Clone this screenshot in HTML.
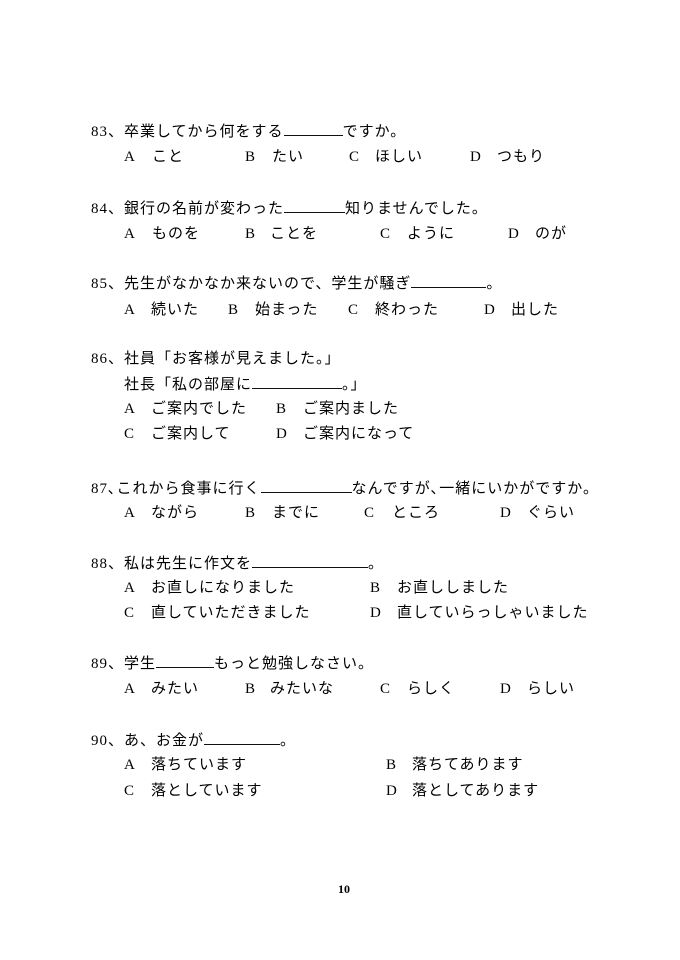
<!DOCTYPE html>
<html><head><meta charset="utf-8"><style>
body{margin:0;background:#fff;}
#p{position:relative;width:680px;height:960px;overflow:hidden;background:#fff;color:#000;font-family:"Liberation Serif","Noto Sans CJK JP",serif;font-size:15px;letter-spacing:1px;}
#p div{position:absolute;white-space:nowrap;line-height:20px;}
.u{display:inline-block;border-bottom:1px solid #111;height:14px;vertical-align:baseline;}
</style></head><body><div id="p">
<div style="left:91px;top:121px">83、卒業してから何をする<span class="u" style="width:59px"></span>ですか。</div>
<div style="left:124px;top:147px">A</div><div style="left:152px;top:147px">こと</div>
<div style="left:245px;top:147px">B</div><div style="left:272px;top:147px">たい</div>
<div style="left:349px;top:147px">C</div><div style="left:375px;top:147px">ほしい</div>
<div style="left:470px;top:147px">D</div><div style="left:497px;top:147px">つもり</div>

<div style="left:91px;top:198px">84、銀行の名前が変わった<span class="u" style="width:61px"></span>知りませんでした。</div>
<div style="left:124px;top:224px">A</div><div style="left:152px;top:224px">ものを</div>
<div style="left:245px;top:224px">B</div><div style="left:270px;top:224px">ことを</div>
<div style="left:380px;top:224px">C</div><div style="left:407px;top:224px">ように</div>
<div style="left:508px;top:224px">D</div><div style="left:535px;top:224px">のが</div>

<div style="left:91px;top:273px">85、先生がなかなか来ないので、学生が騒ぎ<span class="u" style="width:75px"></span>。</div>
<div style="left:124px;top:300px">A</div><div style="left:151px;top:300px">続いた</div>
<div style="left:228px;top:300px">B</div><div style="left:255px;top:300px">始まった</div>
<div style="left:348px;top:300px">C</div><div style="left:375px;top:300px">終わった</div>
<div style="left:484px;top:300px">D</div><div style="left:511px;top:300px">出した</div>

<div style="left:91px;top:349px">86、社員「お客様が見えました。」</div>
<div style="left:124px;top:374px">社長「私の部屋に<span class="u" style="width:90px"></span>。」</div>
<div style="left:124px;top:399px">A</div><div style="left:151px;top:399px">ご案内でした</div>
<div style="left:276px;top:399px">B</div><div style="left:303px;top:399px">ご案内ました</div>
<div style="left:124px;top:424px">C</div><div style="left:151px;top:424px">ご案内して</div>
<div style="left:276px;top:424px">D</div><div style="left:303px;top:424px">ご案内になって</div>

<div style="left:91px;top:478px">87､これから食事に行く<span class="u" style="width:91px"></span>なんですが､一緒にいかがですか。</div>
<div style="left:124px;top:503px">A</div><div style="left:151px;top:503px">ながら</div>
<div style="left:245px;top:503px">B</div><div style="left:272px;top:503px">までに</div>
<div style="left:364px;top:503px">C</div><div style="left:392px;top:503px">ところ</div>
<div style="left:500px;top:503px">D</div><div style="left:527px;top:503px">ぐらい</div>

<div style="left:91px;top:553px">88、私は先生に作文を<span class="u" style="width:116px"></span>。</div>
<div style="left:124px;top:578px">A</div><div style="left:151px;top:578px">お直しになりました</div>
<div style="left:370px;top:578px">B</div><div style="left:397px;top:578px">お直ししました</div>
<div style="left:124px;top:603px">C</div><div style="left:151px;top:603px">直していただきました</div>
<div style="left:370px;top:603px">D</div><div style="left:397px;top:603px">直していらっしゃいました</div>

<div style="left:91px;top:653px">89、学生<span class="u" style="width:58px"></span>もっと勉強しなさい。</div>
<div style="left:124px;top:679px">A</div><div style="left:151px;top:679px">みたい</div>
<div style="left:245px;top:679px">B</div><div style="left:270px;top:679px">みたいな</div>
<div style="left:380px;top:679px">C</div><div style="left:407px;top:679px">らしく</div>
<div style="left:500px;top:679px">D</div><div style="left:527px;top:679px">らしい</div>

<div style="left:91px;top:730px">90、あ、お金が<span class="u" style="width:76px"></span>。</div>
<div style="left:124px;top:755px">A</div><div style="left:151px;top:755px">落ちています</div>
<div style="left:386px;top:755px">B</div><div style="left:412px;top:755px">落ちてあります</div>
<div style="left:124px;top:781px">C</div><div style="left:151px;top:781px">落としています</div>
<div style="left:386px;top:781px">D</div><div style="left:412px;top:781px">落としてあります</div>

<div style="left:338px;top:879px;font-size:12px;font-weight:bold;letter-spacing:0">10</div>
</div></body></html>
